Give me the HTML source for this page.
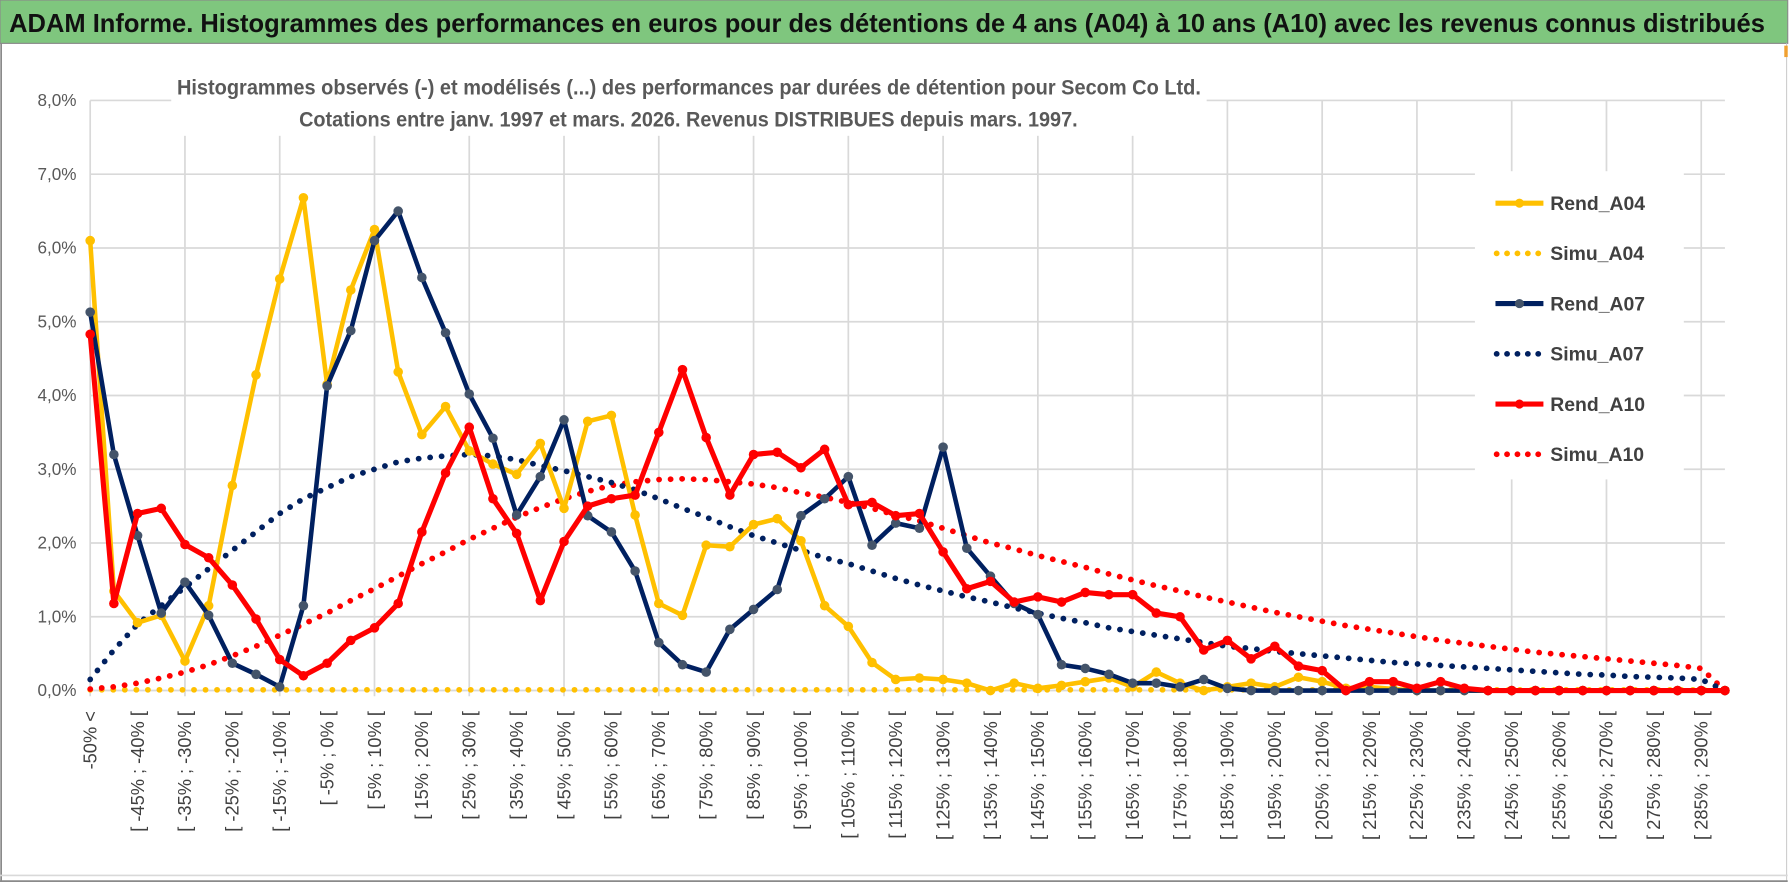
<!DOCTYPE html>
<html><head><meta charset="utf-8"><style>
html,body{margin:0;padding:0;background:#fff;}
svg{display:block;}
</style></head><body>
<svg id="chart" width="1790" height="888" viewBox="0 0 1568 778" preserveAspectRatio="none" xmlns="http://www.w3.org/2000/svg">
<rect x="0" y="0" width="1568" height="778" fill="#fff"/>
<rect x="0" y="0" width="1566" height="38" fill="#7fc67e" stroke="#8a8a8a" stroke-width="1"/>
<text x="8" y="28" font-family="'Liberation Sans Narrow','Liberation Sans',sans-serif" font-weight="bold" font-size="23" fill="#111" textLength="1538" lengthAdjust="spacingAndGlyphs">ADAM Informe. Histogrammes des performances en euros pour des détentions de 4 ans (A04) à 10 ans (A10) avec les revenus connus distribués</text>
<line x1="1" y1="38" x2="1" y2="772" stroke="#8a8a8a" stroke-width="1.5"/>
<line x1="1565" y1="38" x2="1565" y2="772" stroke="#cfcfcf" stroke-width="1"/>
<line x1="0" y1="767" x2="1566" y2="767" stroke="#d9d9d9" stroke-width="1.5"/>
<line x1="0" y1="772" x2="1566" y2="772" stroke="#8a8a8a" stroke-width="1.5"/>
<rect x="1563" y="40" width="3" height="10" fill="#f0a030"/>
<g id="grid"></g>
<g id="yticks"></g>
<g id="xticks"></g>
<rect x="150" y="57" width="907" height="62" fill="#fff"/>
<text x="155" y="83" font-family="'Liberation Sans Narrow','Liberation Sans',sans-serif" font-weight="bold" font-size="19" fill="#595959" textLength="897" lengthAdjust="spacingAndGlyphs">Histogrammes observés (-) et modélisés (...) des performances par durées de détention pour Secom  Co Ltd.</text>
<text x="262" y="111" font-family="'Liberation Sans Narrow','Liberation Sans',sans-serif" font-weight="bold" font-size="19" fill="#595959" textLength="682" lengthAdjust="spacingAndGlyphs">Cotations entre janv. 1997 et mars. 2026.  Revenus DISTRIBUES depuis mars. 1997.</text>
<g id="series"></g>
<rect x="1292" y="150" width="183" height="270" fill="#fff"/>
<g id="legend"></g>
</svg>
<script>
const categories = ["-50% <"];
for (let k = 1; k < 69; k++) { const a = -55 + 5 * k; categories.push("[ " + a + "% ; " + (a + 5) + "% ["); }
categories.push("> 290%");
const yTicks = [0,1,2,3,4,5,6,7,8];
const rendA04 = [6.1,1.35,0.92,1.02,0.4,1.15,2.78,4.28,5.58,6.68,4.15,5.43,6.25,4.32,3.47,3.85,3.25,3.07,2.93,3.35,2.47,3.65,3.73,2.38,1.18,1.02,1.97,1.95,2.25,2.33,2.03,1.15,0.87,0.38,0.15,0.17,0.15,0.1,0.0,0.1,0.03,0.07,0.12,0.17,0.05,0.25,0.1,0.0,0.05,0.1,0.05,0.18,0.12,0.03,0.05,0.02,0,0,0,0,0,0,0,0,0,0,0,0,0,0];
const simuA04 = Array(70).fill(0.01);
const rendA07 = [5.13,3.2,2.1,1.05,1.47,1.02,0.37,0.22,0.05,1.15,4.13,4.88,6.1,6.5,5.6,4.85,4.02,3.42,2.38,2.9,3.67,2.37,2.15,1.62,0.65,0.35,0.25,0.83,1.1,1.37,2.37,2.6,2.9,1.97,2.27,2.2,3.3,1.93,1.55,1.18,1.03,0.35,0.3,0.22,0.1,0.1,0.05,0.15,0.03,0,0,0,0,0,0,0,0,0,0,0,0,0,0,0,0,0,0,0,0,0];
const simuA07 = [0.15,0.55,0.9,1.15,1.4,1.65,1.9,2.15,2.4,2.6,2.75,2.9,3.0,3.1,3.15,3.18,3.2,3.18,3.13,3.05,2.98,2.9,2.82,2.72,2.6,2.47,2.35,2.22,2.1,2.0,1.9,1.8,1.72,1.62,1.52,1.43,1.35,1.27,1.2,1.12,1.05,0.98,0.92,0.85,0.8,0.75,0.7,0.65,0.6,0.57,0.53,0.5,0.47,0.44,0.41,0.38,0.36,0.34,0.32,0.3,0.28,0.26,0.24,0.22,0.21,0.19,0.18,0.17,0.15,0.0];
const rendA10 = [4.83,1.18,2.4,2.47,1.98,1.8,1.43,0.97,0.42,0.2,0.37,0.68,0.85,1.18,2.15,2.95,3.57,2.6,2.13,1.22,2.02,2.5,2.6,2.65,3.5,4.35,3.43,2.65,3.2,3.23,3.02,3.27,2.52,2.55,2.37,2.4,1.88,1.38,1.48,1.2,1.27,1.2,1.33,1.3,1.3,1.05,1.0,0.55,0.68,0.43,0.6,0.33,0.27,0.0,0.12,0.12,0.03,0.12,0.03,0,0,0,0,0,0,0,0,0,0,0];
const simuA10 = [0.02,0.05,0.1,0.17,0.25,0.35,0.47,0.6,0.75,0.9,1.05,1.22,1.38,1.55,1.72,1.88,2.05,2.2,2.35,2.48,2.6,2.7,2.78,2.83,2.86,2.87,2.86,2.83,2.8,2.75,2.68,2.62,2.55,2.47,2.38,2.3,2.2,2.1,2.0,1.92,1.83,1.75,1.67,1.58,1.5,1.42,1.35,1.27,1.2,1.13,1.06,1.0,0.94,0.88,0.83,0.78,0.73,0.68,0.64,0.6,0.56,0.52,0.49,0.46,0.43,0.4,0.37,0.34,0.3,0.0];

const NS = "http://www.w3.org/2000/svg";
const X0 = 79, X1 = 1511, Y0 = 605, Y8 = 88;
function xs(i){ return X0 + (X1 - X0) * i / (categories.length - 1); }
function ys(v){ return Y0 - (Y0 - Y8) * v / 8; }
function mk(tag, attrs, parent){ const e = document.createElementNS(NS, tag); for (const k in attrs) e.setAttribute(k, attrs[k]); parent.appendChild(e); return e; }

const grid = document.getElementById("grid");
yTicks.forEach(t => {
  const l = mk("line", {x1: X0, x2: X1, y1: ys(t), y2: ys(t), stroke: "#d9d9d9", "stroke-width": 1.5}, grid);
  
  
});
for (let i = 0; i < categories.length; i += 4) {
  const l = mk("line", {x1: xs(i), x2: xs(i), y1: Y8, y2: Y0 + 5, stroke: "#d9d9d9", "stroke-width": 1.5}, grid);
  
  
}
const yt = document.getElementById("yticks");
yTicks.forEach(t => {
  const e = mk("text", {x: 67, y: ys(t) + 5, "text-anchor": "end", "font-family": "'Liberation Sans',sans-serif", "font-size": 15, fill: "#595959"}, yt);
  e.textContent = t.toFixed(1).replace(".", ",") + "%";
  
  
});
const xt = document.getElementById("xticks");
for (let i = 0; i < categories.length; i += 2) {
  if (i >= 69) break;
  const x = xs(i) + 5.5, y = 623;
  const e = mk("text", {x: x, y: y, transform: "rotate(-90 " + x + " " + y + ")", "text-anchor": "end", "font-family": "'Liberation Sans',sans-serif", "font-size": 16, fill: "#404040"}, xt);
  e.textContent = categories[i];
  
  
}

const series = document.getElementById("series");
function drawDotted(vals, color, name){
  const pts = vals.map((v, i) => xs(i) + "," + ys(v)).join(" ");
  const p = mk("polyline", {points: pts, fill: "none", stroke: color, "stroke-width": 5, "stroke-dasharray": "0.1 10", "stroke-linecap": "round"}, series);
  
  
}
function drawLine(vals, color, mcolor, w, name){
  const g = mk("g", {}, series);
  
  
  const pts = vals.map((v, i) => xs(i) + "," + ys(v)).join(" ");
  mk("polyline", {points: pts, fill: "none", stroke: color, "stroke-width": w, "stroke-linejoin": "round"}, g);
  vals.forEach((v, i) => {
    const c = mk("circle", {cx: xs(i), cy: ys(v), r: 4.2, fill: mcolor}, g);
    
    
  });
}
drawDotted(simuA04, "#FFC000", "simu-a04-line");
drawDotted(simuA10, "#FF0000", "simu-a10-line");
drawDotted(simuA07, "#002060", "simu-a07-line");
drawLine(rendA04, "#FFC000", "#FFC000", 4, "rend-a04-line");
drawLine(rendA07, "#002060", "#44546A", 4, "rend-a07-line");
drawLine(rendA10, "#FF0000", "#FF0000", 4.5, "rend-a10-line");

const legendItems = [["Rend_A04","#FFC000",false,"#FFC000"],["Simu_A04","#FFC000",true],["Rend_A07","#002060",false,"#44546A"],["Simu_A07","#002060",true],["Rend_A10","#FF0000",false,"#FF0000"],["Simu_A10","#FF0000",true]];
const lg = document.getElementById("legend");
legendItems.forEach((it, k) => {
  const y = 178 + 44 * k;
  const g = mk("g", {}, lg);
  
  
  if (it[2]) {
    mk("line", {x1: 1311, x2: 1351, y1: y, y2: y, stroke: it[1], "stroke-width": 5, "stroke-dasharray": "0.1 9", "stroke-linecap": "round"}, g);
  } else {
    mk("line", {x1: 1310, x2: 1352, y1: y, y2: y, stroke: it[1], "stroke-width": 4.5}, g);
    mk("circle", {cx: 1331, cy: y, r: 4, fill: it[3]}, g);
  }
  const t = mk("text", {x: 1358, y: y + 6, "font-family": "'Liberation Sans Narrow','Liberation Sans',sans-serif", "font-weight": "bold", "font-size": 17, fill: "#404040"}, g);
  t.textContent = it[0];
});
</script>
</body></html>
